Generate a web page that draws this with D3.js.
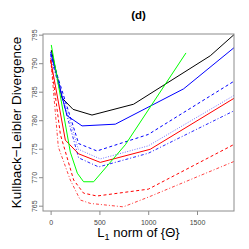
<!DOCTYPE html>
<html>
<head>
<meta charset="utf-8">
<script src="https://d3js.org/d3.v7.min.js"></script>
<style>
body { margin: 0; background: #fff; }
svg { font-family: "Liberation Sans", Arial, sans-serif; }
</style>
</head>
<body>
<svg></svg>
<script>
// L1 norm of {Theta} (x) and Kullback-Leibler divergence (y), one pair of arrays per curve
var blackL1 = [7, 117, 230, 424, 850, 1636, 1885];
var blackKL = [792.3, 783.9, 781.9, 780.9, 782.8, 791.3, 795.1];
var blueL1 = [0, 168, 322, 663, 1363, 1885];
var blueKL = [792.0, 780.8, 779.0, 779.3, 785.5, 792.8];
var greenL1 = [7, 202, 274, 338, 441, 766, 1387];
var greenKL = [793.2, 774.4, 770.7, 769.2, 769.2, 775.7, 791.8];
var redL1 = [0, 151, 287, 509, 1021, 1885];
var redKL = [790.6, 776.5, 774.1, 772.6, 774.9, 783.9];
var blueDashL1 = [0, 287, 475, 1001, 1885];
var blueDashKL = [791.6, 775.9, 774.6, 777.5, 786.9];
var blueDotL1 = [0, 284, 509, 1001, 1885];
var blueDotKL = [791.4, 774.9, 773.2, 775.5, 784.4];
var blueDotDashL1 = [0, 287, 492, 1001, 1885];
var blueDotDashKL = [791.2, 773.4, 771.8, 774.2, 781.7];
var redDashL1 = [0, 100, 236, 338, 475, 1001, 1885];
var redDashKL = [790.6, 777.5, 769.5, 767.2, 766.7, 767.9, 775.8];
var redDotDashL1 = [0, 79, 202, 304, 407, 745, 1001, 1885];
var redDotDashKL = [790.9, 775.3, 769.5, 766.0, 765.4, 764.8, 766.5, 772.8];

var xTicks = [0, 500, 1000, 1500];
var yTicks = [765, 770, 775, 780, 785, 790, 795];

var curves = [
  {x: blackL1, y: blackKL, color: '#000000', dash: null, op: 1},
  {x: blueL1, y: blueKL, color: '#0000ff', dash: null, op: 1},
  {x: blueDashL1, y: blueDashKL, color: '#0000ff', dash: '3,2.5', op: 1},
  {x: blueDotL1, y: blueDotKL, color: '#0000ff', dash: '1,1.5', op: 0.55},
  {x: blueDotDashL1, y: blueDotDashKL, color: '#0000ff', dash: '1,2,3,2', op: 0.85},
  {x: redL1, y: redKL, color: '#ff0000', dash: null, op: 1},
  {x: redDashL1, y: redDashKL, color: '#ff0000', dash: '3,2.5', op: 1},
  {x: redDotDashL1, y: redDotDashKL, color: '#ff0000', dash: '1,2,3,2', op: 0.75},
  {x: greenL1, y: greenKL, color: '#00ff00', dash: null, op: 1}
];

var W = 249, H = 249;
var box = {left: 43, right: 234, top: 34, bottom: 211};

var svg = d3.select('svg')
  .attr('width', W)
  .attr('height', H);

var x = d3.scaleLinear().domain([-78, 1879]).range([box.left, box.right]);
var y = d3.scaleLinear().domain([764.07, 795.12]).range([box.bottom, box.top]);

svg.append('clipPath')
  .attr('id', 'plotclip')
  .append('rect')
  .attr('x', box.left)
  .attr('y', box.top)
  .attr('width', box.right - box.left)
  .attr('height', box.bottom - box.top);

var line = d3.line()
  .x(d => x(d[0]))
  .y(d => y(d[1]));

svg.append('g')
  .attr('clip-path', 'url(#plotclip)')
  .selectAll('path')
  .data(curves)
  .enter()
  .append('path')
  .attr('d', c => line(c.x.map((v, i) => [v, c.y[i]])))
  .attr('fill', 'none')
  .attr('stroke', c => c.color)
  .attr('stroke-opacity', c => c.op)
  .attr('stroke-width', 1)
  .attr('stroke-dasharray', c => c.dash);

// frame
svg.append('rect')
  .attr('x', box.left)
  .attr('y', box.top)
  .attr('width', box.right - box.left)
  .attr('height', box.bottom - box.top)
  .attr('fill', 'none')
  .attr('stroke', '#8c8c8c')
  .attr('stroke-width', 1);

// x axis
var xAxis = d3.axisBottom(x)
  .tickValues(xTicks)
  .tickSize(4)
  .tickPadding(5)
  .tickFormat(d3.format('d'));
var gx = svg.append('g')
  .attr('transform', `translate(0,${box.bottom})`)
  .call(xAxis);
gx.select('.domain').remove();
gx.selectAll('line').attr('stroke', '#8c8c8c');
gx.selectAll('text')
  .attr('fill', '#444')
  .style('font-size', '7px');

// y axis, labels parallel to the axis
var yAxis = d3.axisLeft(y)
  .tickValues(yTicks)
  .tickSize(4)
  .tickFormat(d3.format('d'));
var gy = svg.append('g')
  .attr('transform', `translate(${box.left},0)`)
  .call(yAxis);
gy.select('.domain').remove();
gy.selectAll('line').attr('stroke', '#8c8c8c');
gy.selectAll('text')
  .attr('x', null)
  .attr('dy', null)
  .attr('text-anchor', 'middle')
  .attr('transform', 'translate(-6,0) rotate(-90)')
  .attr('fill', '#444')
  .style('font-size', '7px');

// title and axis labels
svg.append('text')
  .attr('x', (box.left + box.right) / 2)
  .attr('y', 19)
  .attr('text-anchor', 'middle')
  .style('font-size', '11.5px')
  .style('font-weight', 'bold')
  .text('(d)');

svg.append('text')
  .attr('transform', `translate(21,${(box.top + box.bottom) / 2}) rotate(-90)`)
  .attr('text-anchor', 'middle')
  .style('font-size', '13.5px')
  .text('Kullback\u2212Leibler Divergence');

var xl = svg.append('text')
  .attr('x', (box.left + box.right) / 2)
  .attr('y', 237)
  .attr('text-anchor', 'middle')
  .style('font-size', '13px');
xl.append('tspan').text('L');
xl.append('tspan').attr('dy', 3).style('font-size', '9px').text('1');
xl.append('tspan').attr('dy', -3).text(' norm of {\u0398}');
</script>
</body>
</html>
